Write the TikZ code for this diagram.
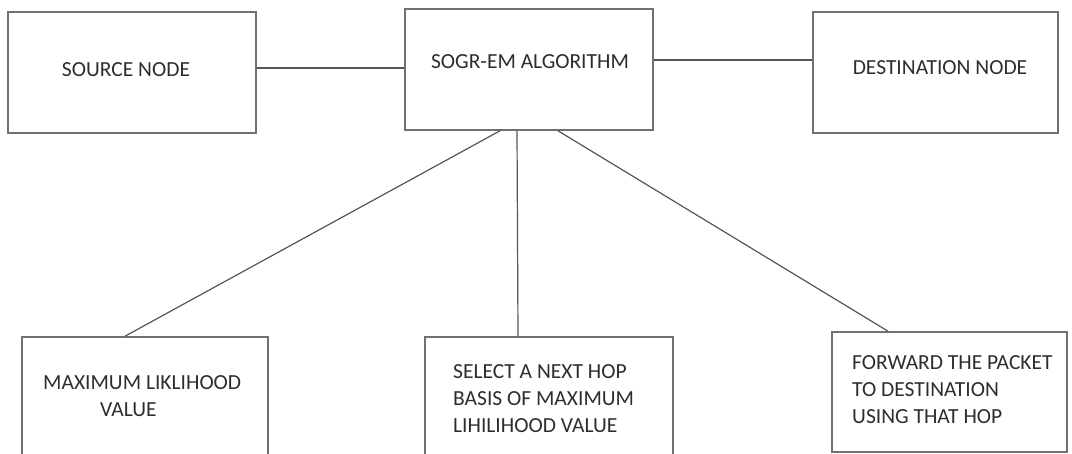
\documentclass[tikz,border=0pt]{standalone}
\usepackage{fontspec}
\setmainfont{Carlito}
\begin{document}
\begin{tikzpicture}[x=1pt,y=-1pt,
  box/.style={draw=boxgray, line width=1.6pt, rectangle, inner sep=0pt},
  txt/.style={text=txtgray, inner sep=0pt, font=\fontsize{21.5}{27}\selectfont},
  link/.style={draw=linkgray, line width=1.2pt}]
\definecolor{boxgray}{RGB}{112,112,112}
\definecolor{linkgray}{RGB}{85,85,85}
\definecolor{txtgray}{RGB}{45,45,45}
\useasboundingbox (0,0) rectangle (1072,454);
\clip (0,0) rectangle (1072,454);
% top row
\node[box, minimum width=248pt, minimum height=121pt] (src) at (132,72.5) {};
\node[txt] (srct) at (126,70) {SOURCE NODE};
\node[box, minimum width=248pt, minimum height=121pt] (alg) at (529,69.5) {};
\node[txt] (algt) at (530,62) {SOGR-EM ALGORITHM};
\node[box, minimum width=245pt, minimum height=121pt] (dst) at (935.5,72.5) {};
\node[txt] (dstt) at (940,68) {DESTINATION NODE};
% bottom row
\node[box, minimum width=246pt, minimum height=140pt] (mlv) at (145,407) {};
\node[txt, align=left, anchor=west] (mlvt) at (43,396) {MAXIMUM LIKLIHOOD\\\hspace*{57pt}VALUE};
\node[box, minimum width=248pt, minimum height=140pt] (sel) at (549,407) {};
\node[txt, align=left, anchor=west] (selt) at (453,399) {SELECT A NEXT HOP\\BASIS OF MAXIMUM\\LIHILIHOOD VALUE};
\node[box, minimum width=235pt, minimum height=120pt] (fwd) at (949.5,392) {};
\node[txt, align=left, anchor=west] (fwdt) at (852,390) {FORWARD THE PACKET\\TO DESTINATION\\USING THAT HOP};
% connectors
\draw[link] ([yshift=4.5pt]src.east) -- ([yshift=1.5pt]alg.west);
\draw[link] ([yshift=9.5pt]alg.east) -- ([yshift=12.5pt]dst.west);
\draw[link] ([xshift=-29pt]alg.south) -- ([xshift=-20pt]mlv.north);
\draw[link] ([xshift=-12pt]alg.south) -- ([xshift=-31pt]sel.north);
\draw[link] ([xshift=29pt]alg.south) -- ([xshift=-61.5pt]fwd.north);
\end{tikzpicture}
\end{document}
